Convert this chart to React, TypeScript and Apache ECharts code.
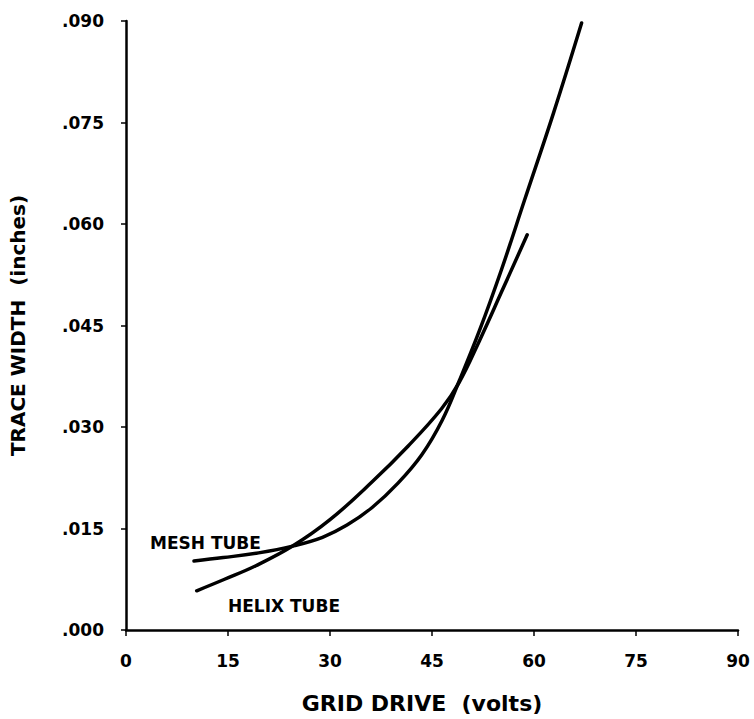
import React, { useEffect, useRef } from "react";
import * as echarts from "echarts";

const xTicks = [0, 15, 30, 45, 60, 75, 90];
const yTicks = [0, 0.015, 0.03, 0.045, 0.06, 0.075, 0.09];

const meshTube: [number, number][] = [
  [10, 0.0102],
  [14.3, 0.0107],
  [19.5, 0.0114],
  [24.5, 0.0124],
  [28.9, 0.0137],
  [32.5, 0.0155],
  [36.2, 0.0181],
  [40, 0.0217],
  [43.5, 0.0259],
  [46.5, 0.031],
  [49, 0.0368],
  [52, 0.0443],
  [55.2, 0.0532],
  [58.6, 0.0635],
  [62.9, 0.0765],
  [67, 0.0897],
];

const helixTube: [number, number][] = [
  [10.4, 0.0058],
  [14.5, 0.0075],
  [19.1, 0.0095],
  [24.5, 0.0124],
  [30, 0.0163],
  [36.2, 0.0219],
  [41.5, 0.0272],
  [46.4, 0.0327],
  [49, 0.0366],
  [52, 0.0428],
  [55.2, 0.0499],
  [59, 0.0584],
];

const FONT = "DejaVu Sans";

export default function App() {
  const ref = useRef<HTMLDivElement>(null);
  useEffect(() => {
    if (!ref.current) return;
    const chart = echarts.init(ref.current, null, { renderer: "svg" });
    const lineStyle = { color: "#000", width: 3.5, cap: "round" as const };
    chart.setOption({
      animation: false,
      backgroundColor: "#fff",
      grid: { left: 122, top: 21, right: 16, bottom: 82, containLabel: false },
      xAxis: {
        type: "value",
        min: 0,
        max: 90,
        interval: 15,
        name: "GRID DRIVE  (volts)",
        nameLocation: "middle",
        nameGap: 62,
        nameTextStyle: {
          fontFamily: FONT,
          fontWeight: "bold",
          fontSize: 22,
          color: "#000",
          padding: [0, 20, 0, 0],
        },
        axisLine: { show: true, lineStyle: { color: "#000", width: 2.5 } },
        axisTick: { show: true, length: 6, lineStyle: { color: "#000", width: 1.5 } },
        axisLabel: {
          margin: 22,
          fontFamily: FONT,
          fontWeight: "bold",
          fontSize: 17,
          color: "#000",
          formatter: (v: number) => (xTicks.includes(v) ? String(v) : ""),
        },
        splitLine: { show: false },
      },
      yAxis: {
        type: "value",
        min: 0,
        max: 0.09,
        interval: 0.015,
        name: "TRACE WIDTH  (inches)",
        nameLocation: "middle",
        nameGap: 98,
        nameTextStyle: { fontFamily: FONT, fontWeight: "bold", fontSize: 20, color: "#000" },
        axisLine: { show: true, lineStyle: { color: "#000", width: 2.5 } },
        axisTick: { show: true, length: 5, lineStyle: { color: "#000", width: 1.5 } },
        axisLabel: {
          margin: 22,
          fontFamily: FONT,
          fontWeight: "bold",
          fontSize: 17,
          color: "#000",
          formatter: (v: number) => {
            const t = yTicks.find((y) => Math.abs(y - v) < 1e-9);
            return t === undefined ? "" : t.toFixed(3).replace(/^0/, "");
          },
        },
        splitLine: { show: false },
      },
      series: [
        {
          name: "MESH TUBE",
          type: "line",
          data: meshTube,
          smooth: 0.4,
          symbol: "none",
          lineStyle,
        },
        {
          name: "HELIX TUBE",
          type: "line",
          data: helixTube,
          smooth: 0.4,
          symbol: "none",
          lineStyle,
        },
      ],
      graphic: [
        {
          type: "text",
          left: 150,
          top: 534,
          style: { text: "MESH TUBE", fontFamily: FONT, fontWeight: "bold", fontSize: 17, fill: "#000" },
        },
        {
          type: "text",
          left: 228,
          top: 597,
          style: { text: "HELIX TUBE", fontFamily: FONT, fontWeight: "bold", fontSize: 17, fill: "#000" },
        },
      ],
    });
    return () => chart.dispose();
  }, []);
  return (
    <div
      ref={ref}
      style={{ position: "absolute", left: 0, top: 0, width: 754, height: 719 }}
    />
  );
}
